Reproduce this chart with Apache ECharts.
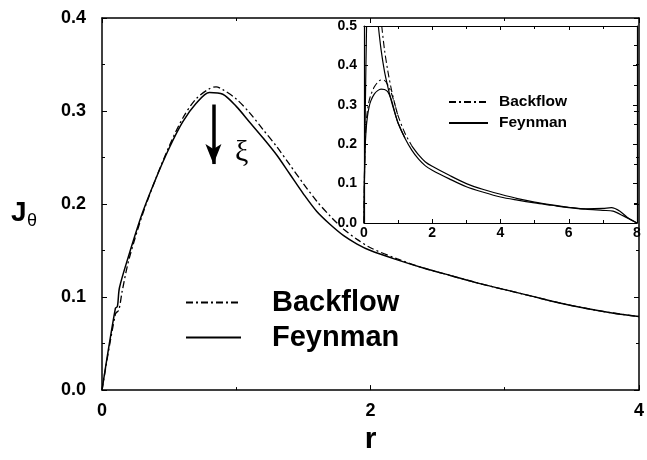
<!DOCTYPE html>
<html>
<head>
<meta charset="utf-8">
<script src="https://cdn.jsdelivr.net/npm/echarts@6/dist/echarts.min.js"></script>
<style>
  html, body { margin: 0; padding: 0; background: #fff; }
  #chart { width: 647px; height: 460px; }
</style>
</head>
<body>
<div id="chart"></div>
<script>
  // main panel, r from 0 to 4
  const mainFeynmanR = [0, 0.10, 0.115, 0.13, 0.2, 0.3, 0.4, 0.5, 0.6, 0.7, 0.8, 0.9, 1.0, 1.1, 1.2, 1.3, 1.4, 1.5, 1.6, 1.7, 1.8, 1.9, 2.0, 2.2, 2.4, 2.6, 2.8, 3.0, 3.2, 3.4, 3.6, 3.8, 4.0]
  const mainFeynmanJ = [0, 0.088, 0.090, 0.110, 0.145, 0.190, 0.227, 0.260, 0.288, 0.308, 0.320, 0.318, 0.305, 0.288, 0.271, 0.253, 0.232, 0.211, 0.192, 0.178, 0.166, 0.157, 0.150, 0.140, 0.131, 0.123, 0.115, 0.108, 0.101, 0.094, 0.088, 0.083, 0.079]
  const mainBackflowR = [0, 0.10, 0.125, 0.15, 0.2, 0.3, 0.4, 0.5, 0.6, 0.7, 0.8, 0.85, 0.9, 1.0, 1.1, 1.2, 1.3, 1.4, 1.5, 1.6, 1.7, 1.8, 1.9, 2.0, 2.2, 2.4, 2.6, 2.8, 3.0, 3.2, 3.4, 3.6, 3.8, 4.0]
  const mainBackflowJ = [0, 0.082, 0.086, 0.106, 0.140, 0.188, 0.227, 0.262, 0.292, 0.313, 0.324, 0.326, 0.323, 0.313, 0.298, 0.280, 0.262, 0.242, 0.222, 0.203, 0.187, 0.173, 0.162, 0.153, 0.141, 0.131, 0.123, 0.115, 0.108, 0.101, 0.094, 0.088, 0.083, 0.079]

  // inset, r from 0 to 8
  const insetFeynmanPeakR = [0, 0.01, 0.03, 0.06, 0.1, 0.15, 0.2, 0.3, 0.4, 0.5, 0.6, 0.7, 0.8, 0.9, 1.0, 1.2]
  const insetFeynmanPeakJ = [0, 0.10, 0.18, 0.235, 0.27, 0.295, 0.31, 0.327, 0.336, 0.340, 0.339, 0.333, 0.313, 0.282, 0.254, 0.216]
  const insetBackflowPeakR = [0, 0.01, 0.03, 0.06, 0.1, 0.15, 0.2, 0.3, 0.4, 0.5, 0.6, 0.7, 0.8, 0.9, 1.0]
  const insetBackflowPeakJ = [0, 0.10, 0.19, 0.25, 0.285, 0.31, 0.325, 0.345, 0.357, 0.363, 0.362, 0.350, 0.330, 0.302, 0.270]
  const insetFeynmanR = [0, 0.02, 0.04, 0.06, 0.075, 0.2, 0.42, 0.5, 0.6, 0.7, 0.8, 0.9, 1.0, 1.2, 1.4, 1.6, 1.8, 2.0, 2.5, 3.0, 3.5, 4.0, 4.5, 5.0, 5.5, 6.0, 6.5, 7.0, 7.3, 7.6, 8.0]
  const insetFeynmanJ = [0, 0.17, 0.30, 0.42, 0.50, '-', 0.50, 0.44, 0.385, 0.345, 0.31, 0.28, 0.253, 0.215, 0.185, 0.162, 0.145, 0.134, 0.112, 0.092, 0.078, 0.066, 0.058, 0.051, 0.045, 0.039, 0.035, 0.032, 0.030, 0.018, 0]
  const insetBackflowR = [0.52, 0.6, 0.7, 0.8, 0.9, 1.0, 1.2, 1.4]
  const insetBackflowJ = [0.50, 0.44, 0.385, 0.34, 0.303, 0.272, 0.228, 0.196]
  const insetUpperR = [1.4, 1.6, 1.8, 2.0, 2.5, 3.0, 3.5, 4.0, 4.5, 5.0, 5.5, 6.0, 6.5, 7.0, 7.25, 7.5, 7.75, 8.0]
  const insetUpperJ = [0.196, 0.173, 0.155, 0.144, 0.121, 0.100, 0.085, 0.073, 0.062, 0.053, 0.046, 0.040, 0.036, 0.037, 0.039, 0.030, 0.012, 0]

  const mainXTicks = [0, 2, 4]
  const mainYTicks = [0.0, 0.1, 0.2, 0.3, 0.4]
  const insetXTicks = [0, 2, 4, 6, 8]
  const insetYTicks = [0.0, 0.1, 0.2, 0.3, 0.4, 0.5]

  const pairs = (xs, ys) => xs.map((x, i) => [x, ys[i]])

  const dashDot = [7, 3, 2, 3]
  const labelFont = 'Liberation Sans, Arial, sans-serif'

  function frameAxis(o) {
    return Object.assign({
      type: 'value',
      axisLine: { show: true, onZero: false, lineStyle: { color: '#000', width: 1.5 } },
      axisTick: { show: true, inside: true, length: 5, lineStyle: { color: '#000' } },
      minorTick: { show: true, splitNumber: 2, length: 3, lineStyle: { color: '#000' } },
      splitLine: { show: false },
      axisLabel: { show: false }
    }, o)
  }

  let myChart = echarts.init(document.getElementById('chart'))

  let option = {
    animation: false,
    backgroundColor: '#fff',
    grid: [
      { left: 102, top: 18, right: 4, bottom: 49 },
      { left: 364, top: 26, right: 10, bottom: 237 }
    ],
    legend: [
      {
        data: ['Backflow', 'Feynman'],
        orient: 'vertical',
        left: 180, top: 283,
        itemWidth: 55, itemHeight: 14, itemGap: 6,
        itemStyle: { opacity: 0 },
        textStyle: { fontSize: 29, fontWeight: 'bold', color: '#000', fontFamily: labelFont, padding: [0, 0, 0, 26] },
        selectedMode: false
      },
      {
        data: ['Backflow', 'Feynman'],
        orient: 'vertical',
        left: 443, top: 89,
        itemWidth: 39, itemHeight: 10, itemGap: 5,
        itemStyle: { opacity: 0 },
        textStyle: { fontSize: 15.5, fontWeight: 'bold', color: '#000', fontFamily: labelFont, padding: [0, 0, 0, 6] },
        selectedMode: false
      }
    ],
    xAxis: [
      frameAxis({
        gridIndex: 0, position: 'bottom', min: 0, max: 4, interval: 2,
        name: 'r', nameLocation: 'middle', nameGap: 24,
        nameTextStyle: { fontSize: 30, fontWeight: 'bold', color: '#000', fontFamily: labelFont },
        axisLabel: { show: true, margin: 12, fontSize: 18, fontWeight: 'bold', color: '#000', fontFamily: labelFont,
          customValues: mainXTicks }
      }),
      frameAxis({ gridIndex: 0, position: 'top', min: 0, max: 4, interval: 2 }),
      frameAxis({
        gridIndex: 1, position: 'bottom', min: 0, max: 8, interval: 2,
        axisLine: { show: true, onZero: false, lineStyle: { color: '#000', width: 1.2 } },
        axisTick: { show: true, inside: true, length: 4, lineStyle: { color: '#000' } },
        axisLabel: { show: true, margin: 3, fontSize: 14, fontWeight: 'bold', color: '#000', fontFamily: labelFont,
          customValues: insetXTicks }
      }),
      frameAxis({ gridIndex: 1, position: 'top', min: 0, max: 8, interval: 2,
        axisLine: { show: true, onZero: false, lineStyle: { color: '#000', width: 1.2 } },
        axisTick: { show: true, inside: true, length: 4, lineStyle: { color: '#000' } } })
    ],
    yAxis: [
      frameAxis({
        gridIndex: 0, position: 'left', min: 0, max: 0.4, interval: 0.1,
        axisLabel: { show: true, margin: 16, fontSize: 18, fontWeight: 'bold', color: '#000', fontFamily: labelFont,
          customValues: mainYTicks, formatter: v => v.toFixed(1) }
      }),
      frameAxis({ gridIndex: 0, position: 'right', min: 0, max: 0.4, interval: 0.1 }),
      frameAxis({
        gridIndex: 1, position: 'left', min: 0, max: 0.5, interval: 0.1,
        axisLine: { show: true, onZero: false, lineStyle: { color: '#000', width: 1.2 } },
        axisTick: { show: true, inside: true, length: 4, lineStyle: { color: '#000' } },
        axisLabel: { show: true, margin: 7, fontSize: 14, fontWeight: 'bold', color: '#000', fontFamily: labelFont,
          customValues: insetYTicks, formatter: v => v.toFixed(1) }
      }),
      frameAxis({ gridIndex: 1, position: 'right', min: 0, max: 0.5, interval: 0.1,
        axisLine: { show: true, onZero: false, lineStyle: { color: '#000', width: 1.2 } },
        axisTick: { show: true, inside: true, length: 4, lineStyle: { color: '#000' } } })
    ],
    graphic: [
      { type: 'text', left: 11, top: 199, style: { text: 'J', fill: '#000', font: 'bold 28px ' + labelFont } },
      { type: 'text', left: 27, top: 212, style: { text: 'θ', fill: '#000', font: '18px ' + labelFont } },
      { type: 'text', left: 235, top: 138, style: { text: 'ξ', fill: '#000', font: '30px Liberation Serif, serif' } }
    ],
    series: [
      {
        name: 'Backflow', type: 'line', xAxisIndex: 0, yAxisIndex: 0,
        data: pairs(mainBackflowR, mainBackflowJ),
        symbol: 'none', smooth: 0.3,
        lineStyle: { color: '#000', width: 1.3, type: dashDot },
        itemStyle: { color: '#000' }
      },
      {
        name: 'Feynman', type: 'line', xAxisIndex: 0, yAxisIndex: 0,
        data: pairs(mainFeynmanR, mainFeynmanJ),
        symbol: 'none', smooth: 0.3,
        lineStyle: { color: '#000', width: 1.5 },
        itemStyle: { color: '#000' },
        markLine: {
          silent: true, animation: false,
          symbol: ['none', 'arrow'], symbolSize: [12, 20],
          label: { show: false },
          lineStyle: { color: '#000', width: 3.5, type: 'solid' },
          data: [[{ coord: [0.83, 0.307] }, { coord: [0.83, 0.243] }]]
        }
      },
      {
        name: 'Backflow', type: 'line', xAxisIndex: 2, yAxisIndex: 2,
        data: pairs(insetBackflowPeakR, insetBackflowPeakJ),
        symbol: 'none', smooth: 0.3,
        lineStyle: { color: '#000', width: 1.1, type: dashDot }
      },
      {
        name: 'Feynman', type: 'line', xAxisIndex: 2, yAxisIndex: 2,
        data: pairs(insetFeynmanPeakR, insetFeynmanPeakJ),
        symbol: 'none', smooth: 0.3,
        lineStyle: { color: '#000', width: 1.2 }
      },
      {
        name: 'Feynman', type: 'line', xAxisIndex: 2, yAxisIndex: 2,
        data: pairs(insetFeynmanR, insetFeynmanJ),
        symbol: 'none', smooth: 0.3,
        lineStyle: { color: '#000', width: 1.2 }
      },
      {
        name: 'Backflow', type: 'line', xAxisIndex: 2, yAxisIndex: 2,
        data: pairs(insetBackflowR, insetBackflowJ),
        symbol: 'none', smooth: 0.3,
        lineStyle: { color: '#000', width: 1.1, type: dashDot }
      },
      {
        name: 'Feynman', type: 'line', xAxisIndex: 2, yAxisIndex: 2,
        data: pairs(insetUpperR, insetUpperJ),
        symbol: 'none', smooth: 0.3,
        lineStyle: { color: '#000', width: 1.2 }
      }
    ]
  }

  myChart.setOption(option, true)
</script>
</body>
</html>
